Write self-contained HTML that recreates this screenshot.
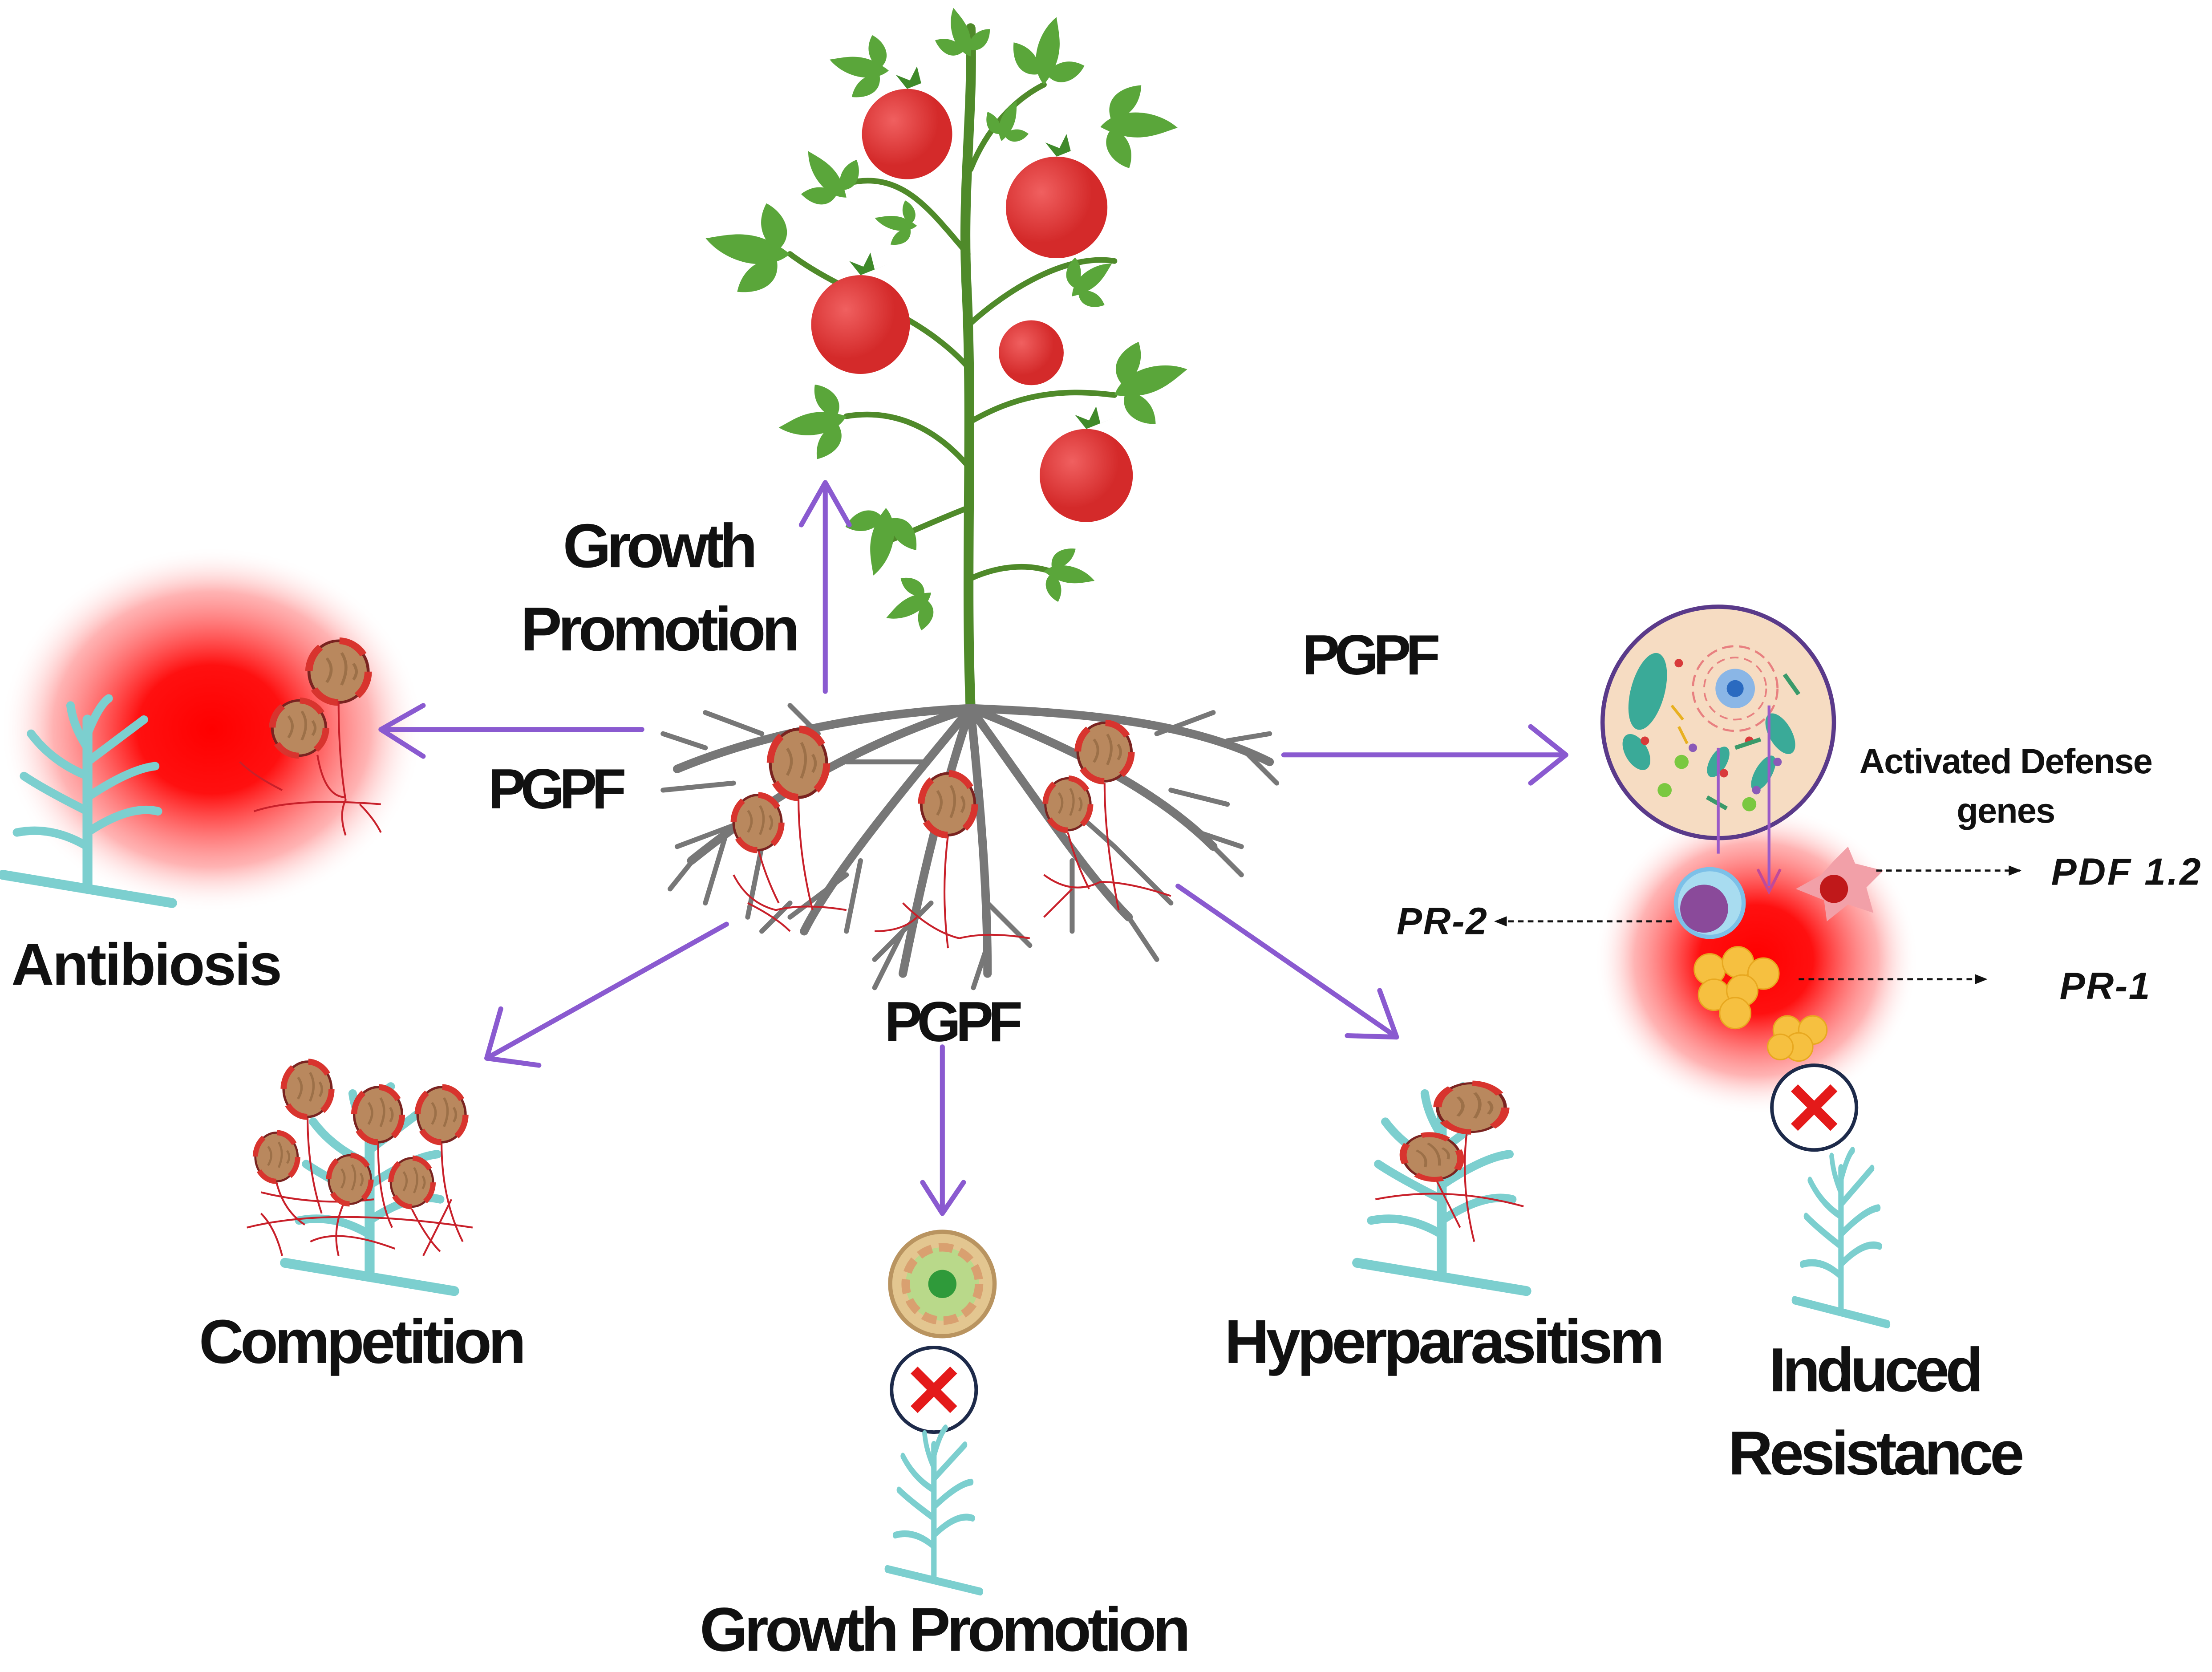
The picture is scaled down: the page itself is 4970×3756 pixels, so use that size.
<!DOCTYPE html>
<html><head><meta charset="utf-8"><style>
html,body{margin:0;padding:0;background:#fff}
svg{display:block}
text{font-family:"Liberation Sans Narrow","Liberation Sans",sans-serif;font-weight:bold;fill:#111}
</style></head><body>
<svg width="4970" height="3756" viewBox="0 0 1568 1185" xmlns="http://www.w3.org/2000/svg">
<defs>
<radialGradient id="rg"><stop offset="0" stop-color="#ff0000"/><stop offset="0.35" stop-color="#ff1010"/><stop offset="0.75" stop-color="#ff8080" stop-opacity="0.6"/><stop offset="1" stop-color="#fff" stop-opacity="0"/></radialGradient>
<radialGradient id="tom" cx="0.35" cy="0.35"><stop offset="0" stop-color="#f06060"/><stop offset="1" stop-color="#d42a2a"/></radialGradient>
<g id="spore"><ellipse rx="20" ry="23" fill="#b9885e" stroke="#7a2320" stroke-width="2"/><ellipse rx="20" ry="23" fill="none" stroke="#d8342e" stroke-width="5" stroke-dasharray="20 14"/><path d="M-8 -10 q6 8 0 18 M2 -14 q6 10 0 24 M10 -6 q4 6 0 12" stroke="#9c7048" stroke-width="2" fill="none"/></g>
<g id="fern" stroke="#7ccfcf" fill="none" stroke-linecap="round">
<path d="M0 0 V-120" stroke-width="7"/>
<path d="M-60 -10 L60 10" stroke-width="7"/>
<path d="M0 -30 q-25 -15 -50 -10 M0 -55 q-30 -15 -45 -25 M0 -80 q-25 -10 -40 -30 M0 -100 q-10 -15 -12 -30 M0 -40 q30 -20 50 -15 M0 -65 q30 -20 48 -22 M0 -90 q20 -15 40 -30 M0 -110 q8 -20 15 -25" stroke-width="6"/>
</g>
<g id="leaf" fill="#5aa63a"><path d="M0 0 C10 -18 40 -22 60 -10 C45 -2 30 10 0 0 Z"/><path d="M8 -6 C-2 -22 10 -34 26 -38 C28 -24 22 -12 8 -6 Z"/><path d="M10 -2 C0 12 12 26 28 28 C30 14 24 4 10 -2 Z"/></g>
<marker id="ah" viewBox="0 0 10 10" refX="9" refY="5" markerWidth="6" markerHeight="6" orient="auto"><path d="M0 1 L10 5 L0 9 z" fill="#111"/></marker>
</defs>

<ellipse cx="150" cy="517" rx="150" ry="130" fill="url(#rg)"/>
<ellipse cx="1245" cy="680" rx="115" ry="110" fill="url(#rg)"/>

<!-- tomato plant -->
<g stroke="#4f8a2a" fill="none" stroke-linecap="round">
<path d="M688 502 C684 400 690 300 685 200 C682 130 690 80 688 20" stroke-width="7"/>
<path d="M686 330 C660 300 630 290 600 295 M686 260 C650 220 600 210 560 180 M686 180 C660 150 640 120 600 130 M688 120 C700 90 720 70 740 60 M687 230 C720 200 760 180 790 185 M686 300 C720 280 750 275 790 280 M688 410 C710 400 730 400 745 405 M686 360 C660 370 640 380 625 385" stroke-width="4"/>
</g>
<use href="#leaf" transform="translate(560 180) rotate(200) scale(1.0)"/>
<use href="#leaf" transform="translate(600 295) rotate(180) scale(0.8)"/>
<use href="#leaf" transform="translate(628 360) rotate(110) scale(0.8)"/>
<use href="#leaf" transform="translate(790 280) rotate(-10) scale(0.9)"/>
<use href="#leaf" transform="translate(780 90) rotate(10) scale(0.9)"/>
<use href="#leaf" transform="translate(740 60) rotate(-70) scale(0.8)"/>
<use href="#leaf" transform="translate(688 40) rotate(-100) scale(0.6)"/>
<use href="#leaf" transform="translate(630 50) rotate(200) scale(0.7)"/>
<use href="#leaf" transform="translate(600 140) rotate(240) scale(0.7)"/>
<use href="#leaf" transform="translate(760 210) rotate(-30) scale(0.6)"/>
<use href="#leaf" transform="translate(660 420) rotate(160) scale(0.6)"/>
<use href="#leaf" transform="translate(740 405) rotate(20) scale(0.6)"/>
<use href="#leaf" transform="translate(650 160) rotate(200) scale(0.5)"/>
<use href="#leaf" transform="translate(710 100) rotate(-60) scale(0.5)"/>
<g fill="#3f8a2a"><path d="M643 63 l-8 -10 l10 4 l5 -10 l3 12 l10 -4 z"/><path d="M749 111 l-8 -10 l10 4 l5 -10 l3 12 l10 -4 z"/><path d="M610 195 l-8 -10 l10 4 l5 -10 l3 12 l10 -4 z"/><path d="M770 304 l-8 -10 l10 4 l5 -10 l3 12 l10 -4 z"/></g>
<circle cx="643" cy="95" r="32" fill="url(#tom)"/>
<circle cx="749" cy="147" r="36" fill="url(#tom)"/>
<circle cx="610" cy="230" r="35" fill="url(#tom)"/>
<circle cx="731" cy="250" r="23" fill="url(#tom)"/>
<circle cx="770" cy="337" r="33" fill="url(#tom)"/>

<!-- roots -->
<g stroke="#777" fill="none" stroke-linecap="round">
<path d="M688 502 C620 505 540 520 480 545 M688 502 C600 530 540 570 490 610 M688 502 C640 560 590 620 570 660 M688 502 C665 570 650 640 640 690 M688 502 C695 570 700 630 700 690 M688 502 C730 560 770 620 800 650 M688 502 C760 530 820 560 860 600 M688 502 C760 505 840 510 900 540" stroke-width="6"/>
<path d="M540 520 L500 505 M520 555 L470 560 M520 585 L480 600 M540 600 L530 650 M600 620 L560 650 M610 610 L600 660 M660 640 L620 680 M700 640 L730 670 M760 610 L760 660 M790 600 L830 640 M830 560 L870 570 M860 600 L880 620 M820 520 L860 505 M870 525 L900 520 M580 520 L560 500 M500 530 L470 520 M495 605 L475 630 M515 590 L500 640 M640 660 L620 700 M700 670 L690 700 M800 650 L820 680 M850 590 L880 600 M880 530 L905 555 M560 640 L540 660 M745 560 L790 600 M655 540 L600 540" stroke-width="3.5"/>
</g>
<g stroke="#c8202a" fill="none" stroke-width="1.3">
<path d="M520 620 q10 20 30 25 q20 -5 50 0 M530 640 q20 10 30 20 M640 640 q20 20 40 25 q20 -5 50 0 M650 650 q-10 10 -30 10 M740 620 q20 15 40 5 q20 0 50 10 M760 630 q-10 10 -20 20 M537 600 q5 20 15 40 M566 565 q0 40 10 80 M672 592 q-5 40 0 80 M757 590 q5 20 15 40 M783 555 q0 40 10 90"/>
</g>
<use href="#spore" transform="translate(566 541) scale(1 1.05)"/>
<use href="#spore" transform="translate(537 583) scale(0.85)"/>
<use href="#spore" transform="translate(672 570) scale(0.95)"/>
<use href="#spore" transform="translate(783 533) scale(0.95 0.9)"/>
<use href="#spore" transform="translate(757 570) scale(0.8)"/>

<!-- Antibiosis -->
<use href="#fern" transform="translate(62 630)"/>
<use href="#spore" transform="translate(240 476) scale(1.05 0.95)"/>
<use href="#spore" transform="translate(212 516) scale(0.95 0.85)"/>
<path d="M180 575 q30 -10 90 -5 M225 535 q5 30 20 30 M240 497 q0 40 5 70 q-5 10 0 25 M200 560 q-20 -10 -30 -20 M255 570 q10 10 15 20" stroke="#c8202a" stroke-width="1.3" fill="none"/>

<!-- Competition -->
<use href="#fern" transform="translate(262 905)"/>
<g stroke="#c8202a" stroke-width="1.3" fill="none">
<path d="M175 870 q60 -15 160 0 M185 845 q40 10 80 5 M220 880 q20 -10 60 5 M200 890 q-5 -20 -15 -30 M300 890 q10 -20 20 -40 M240 890 q-5 -20 5 -40 M218 790 q0 40 10 70 M268 810 q0 40 10 60 M313 810 q0 40 15 70 M196 838 q5 20 20 30 M292 857 q10 20 20 30"/>
</g>
<use href="#spore" transform="translate(218 772) scale(0.85)"/>
<use href="#spore" transform="translate(268 790) scale(0.85)"/>
<use href="#spore" transform="translate(313 790) scale(0.85)"/>
<use href="#spore" transform="translate(196 820) scale(0.75)"/>
<use href="#spore" transform="translate(248 836) scale(0.75)"/>
<use href="#spore" transform="translate(292 838) scale(0.75)"/>

<!-- Hyperparasitism -->
<use href="#fern" transform="translate(1022 905)"/>
<g stroke="#c8202a" stroke-width="1.3" fill="none"><path d="M975 850 q50 -10 105 5 M1040 800 q-5 40 5 80 M1015 830 q10 20 20 40"/></g>
<use href="#spore" transform="translate(1043 785) scale(1.2 0.75)"/>
<use href="#spore" transform="translate(1015 820) scale(1 0.7) rotate(-20)"/>

<!-- Growth promotion bottom -->
<circle cx="668" cy="910" r="37" fill="#e3c690" stroke="#b99460" stroke-width="3"/>
<circle cx="668" cy="910" r="26" fill="#b9d98a" stroke="#d9a070" stroke-width="6" stroke-dasharray="10 5"/>
<circle cx="668" cy="910" r="10" fill="#2f9a3a"/>
<circle cx="662" cy="985" r="30" fill="#fff" stroke="#1d2a4a" stroke-width="2.5"/>
<path d="M648 971 L676 999 M676 971 L648 999" stroke="#e41a1a" stroke-width="7"/>
<use href="#fern" transform="translate(662 1120) scale(0.55 0.8)"/>

<!-- Induced resistance -->
<circle cx="1218" cy="512" r="82" fill="#f6dcc2" stroke="#5a3a8a" stroke-width="3"/>
<ellipse cx="1168" cy="490" rx="12" ry="28" fill="#3aaa98" transform="rotate(15 1168 490)"/>
<circle cx="1230" cy="488" r="30" fill="none" stroke="#e88080" stroke-width="1.5" stroke-dasharray="8 4"/>
<circle cx="1230" cy="488" r="22" fill="none" stroke="#e88080" stroke-width="1.2" stroke-dasharray="6 4"/>
<circle cx="1230" cy="488" r="14" fill="#8ab6e6"/><circle cx="1230" cy="488" r="6" fill="#2a6ac0"/>
<g fill="#3aaa98"><ellipse cx="1160" cy="533" rx="8" ry="14" transform="rotate(-30 1160 533)"/><ellipse cx="1262" cy="520" rx="8" ry="16" transform="rotate(-30 1262 520)"/><ellipse cx="1250" cy="548" rx="6" ry="14" transform="rotate(30 1250 548)"/><ellipse cx="1218" cy="540" rx="6" ry="12" transform="rotate(30 1218 540)"/></g>
<g fill="#7ac840"><circle cx="1192" cy="540" r="5"/><circle cx="1180" cy="560" r="5"/><circle cx="1240" cy="570" r="5"/></g>
<g fill="#d83a3a"><circle cx="1190" cy="470" r="3"/><circle cx="1166" cy="525" r="3"/><circle cx="1240" cy="525" r="3"/><circle cx="1222" cy="548" r="3"/></g>
<g fill="#8a5ab8"><circle cx="1200" cy="530" r="3"/><circle cx="1245" cy="560" r="3"/><circle cx="1260" cy="540" r="3"/></g>
<g stroke="#e8b020" stroke-width="2" fill="none"><path d="M1185 500 l8 10 M1190 515 l6 12"/></g>
<g stroke="#3a9a6a" stroke-width="3" fill="none"><path d="M1265 478 l10 14 M1210 565 l14 8 M1230 530 l18 -6"/></g>
<path d="M1218 530 V605 M1254 500 V628" stroke="#9a5ac8" stroke-width="2"/>
<path d="M1246 616 L1254 632 L1262 616" stroke="#c04a9a" stroke-width="2" fill="none"/>
<circle cx="1212" cy="640" r="24" fill="#a8dcf0" stroke="#7cc0e8" stroke-width="3"/>
<circle cx="1208" cy="644" r="17" fill="#8a4a9a"/>
<path d="M1300 610 l10 -10 l5 12 l20 5 l-12 12 l5 18 l-18 -6 l-15 12 l-2 -15 l-20 -8 l18 -10 z" fill="#f2a0a8"/>
<circle cx="1300" cy="630" r="10" fill="#c0181a"/>
<g fill="#f6c040" stroke="#e8a820" stroke-width="1"><circle cx="1212" cy="687" r="11"/><circle cx="1232" cy="682" r="11"/><circle cx="1250" cy="690" r="11"/><circle cx="1215" cy="705" r="11"/><circle cx="1235" cy="702" r="11"/><circle cx="1230" cy="718" r="11"/><circle cx="1267" cy="730" r="10"/><circle cx="1285" cy="730" r="10"/><circle cx="1275" cy="742" r="10"/><circle cx="1262" cy="742" r="9"/></g>
<circle cx="1286" cy="785" r="30" fill="#fff" stroke="#1d2a4a" stroke-width="2.5"/>
<path d="M1272 771 L1300 799 M1300 771 L1272 799" stroke="#e41a1a" stroke-width="7"/>
<use href="#fern" transform="translate(1305 930) scale(0.55 0.85)"/>

<!-- dashed arrows -->
<g stroke="#111" stroke-width="1.5" stroke-dasharray="4 3" fill="none">
<path d="M1330 617 H1432" marker-end="url(#ah)"/>
<path d="M1185 653 H1060" marker-end="url(#ah)"/>
<path d="M1275 694 H1408" marker-end="url(#ah)"/>
</g>

<!-- purple arrows -->
<g stroke="#8a5ad0" stroke-width="3.5" fill="none" stroke-linecap="round" stroke-linejoin="round">
<path d="M585 490 V342 M568 372 L585 342 L602 372"/>
<path d="M455 517 H270 M300 500 L270 517 L300 536"/>
<path d="M910 535 H1110 M1085 515 L1110 535 L1085 555"/>
<path d="M515 655 L345 750 M355 715 L345 750 L382 755"/>
<path d="M668 742 V860 M654 838 L668 860 L683 838"/>
<path d="M835 628 L990 735 M955 734 L990 735 L978 702"/>
</g>

<!-- labels -->
<text x="468" y="402" font-size="44" text-anchor="middle" textLength="138">Growth</text>
<text x="468" y="461" font-size="44" text-anchor="middle" textLength="198">Promotion</text>
<text x="395" y="573" font-size="40" text-anchor="middle" textLength="98">PGPF</text>
<text x="972" y="478" font-size="40" text-anchor="middle" textLength="98">PGPF</text>
<text x="676" y="738" font-size="40" text-anchor="middle" textLength="98">PGPF</text>
<text x="104" y="698" font-size="42" text-anchor="middle" textLength="192" style="font-family:'Liberation Sans',sans-serif">Antibiosis</text>
<text x="257" y="966" font-size="44" text-anchor="middle" textLength="232">Competition</text>
<text x="1024" y="966" font-size="44" text-anchor="middle" textLength="312">Hyperparasitism</text>
<text x="1330" y="986" font-size="44" text-anchor="middle" textLength="152">Induced</text>
<text x="1330" y="1045" font-size="44" text-anchor="middle" textLength="210">Resistance</text>
<text x="670" y="1170" font-size="44" text-anchor="middle" textLength="348">Growth Promotion</text>
<text x="1422" y="548" font-size="25" text-anchor="middle" textLength="208">Activated Defense</text>
<text x="1422" y="583" font-size="25" text-anchor="middle" textLength="70">genes</text>
<text x="1507" y="627" font-size="27" font-style="italic" text-anchor="middle" textLength="106">PDF 1.2</text>
<text x="1022" y="662" font-size="27" font-style="italic" text-anchor="middle" textLength="64">PR-2</text>
<text x="1492" y="708" font-size="27" font-style="italic" text-anchor="middle" textLength="64">PR-1</text>
</svg>
</body></html>
